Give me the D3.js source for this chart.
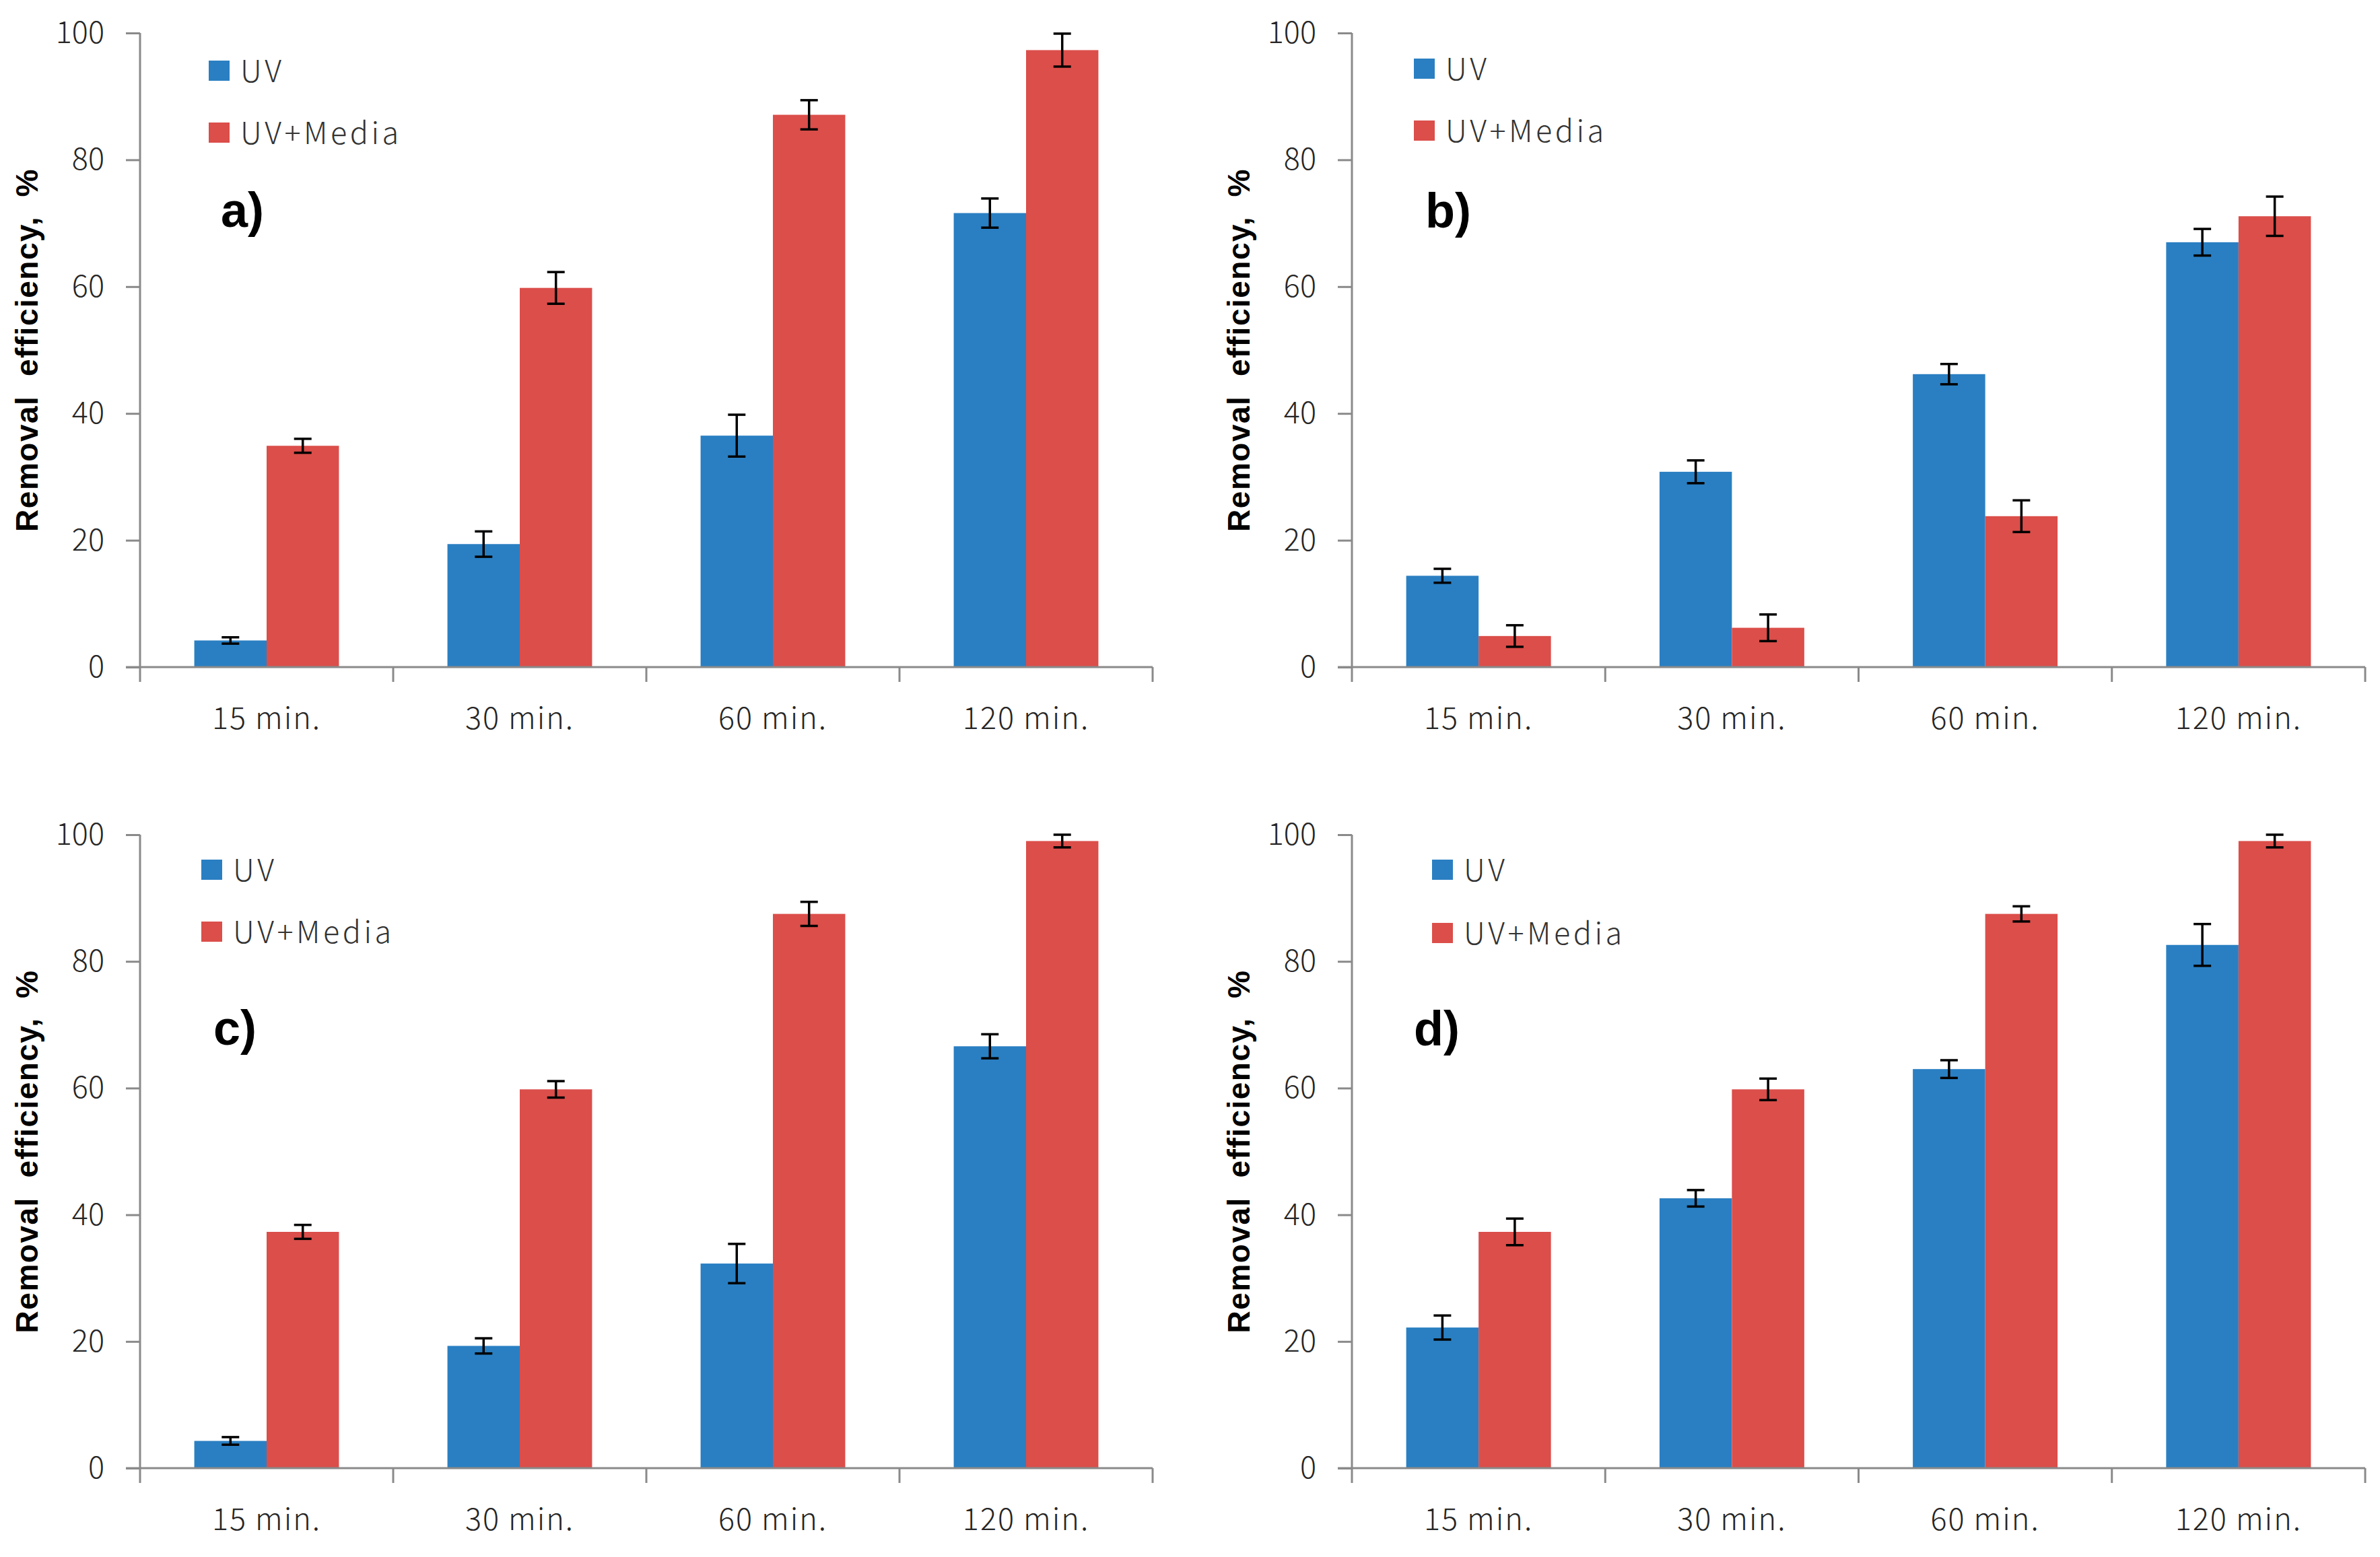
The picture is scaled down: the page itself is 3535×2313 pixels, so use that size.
<!DOCTYPE html>
<html>
<head>
<meta charset="utf-8">
<script src="https://cdn.jsdelivr.net/npm/d3@7"></script>
<style>
  html, body { margin: 0; padding: 0; background: #ffffff; }
  svg { display: block; }
</style>
</head>
<body>
<svg id="chart" width="3535" height="2313"></svg>
<script>
// ---------------- DATA ----------------
const categories = ["15 min.", "30 min.", "60 min.", "120 min."];
const seriesNames = ["UV", "UV+Media"];
const yTickValues = [0, 20, 40, 60, 80, 100];
const panelLabels = ["a)", "b)", "c)", "d)"];
const axisTitle = "Removal  efficiency,  %";

const uvA      = [4.2, 19.4, 36.5, 71.6];
const uvErrA   = [0.5, 2.0, 3.3, 2.3];
const mediaA   = [34.9, 59.8, 87.1, 97.3];
const mediaErrA= [1.1, 2.5, 2.3, 2.6];

const uvB      = [14.4, 30.8, 46.2, 67.0];
const uvErrB   = [1.1, 1.8, 1.6, 2.1];
const mediaB   = [4.9, 6.2, 23.8, 71.1];
const mediaErrB= [1.7, 2.1, 2.5, 3.1];

const uvC      = [4.3, 19.3, 32.3, 66.6];
const uvErrC   = [0.6, 1.2, 3.1, 1.9];
const mediaC   = [37.3, 59.8, 87.5, 99.0];
const mediaErrC= [1.1, 1.3, 1.9, 1.0];

const uvD      = [22.2, 42.6, 63.0, 82.6];
const uvErrD   = [1.9, 1.3, 1.4, 3.3];
const mediaD   = [37.3, 59.8, 87.5, 99.0];
const mediaErrD= [2.1, 1.7, 1.2, 1.0];

// ---------------- STYLE / LAYOUT ----------------
const colors = { "UV": "#2A7FC2", "UV+Media": "#DB4E4A" };
const axisColor = "#8a8a8a";
const tickFont = "'Noto Sans CJK KR', 'Liberation Sans', sans-serif";
const boldFont = "'Liberation Sans', Arial, sans-serif";

const layouts = [
  { left: 208,  right: 1712, top: 49,   bottom: 991,  legX: 310,  legY: [105, 197],   labX: 328,  labY: 337 },
  { left: 2008, right: 3513, top: 49,   bottom: 991,  legX: 2100, legY: [102, 194],   labX: 2117, labY: 338 },
  { left: 208,  right: 1712, top: 1240, bottom: 2181, legX: 299,  legY: [1292, 1384], labX: 317,  labY: 1552 },
  { left: 2008, right: 3513, top: 1240, bottom: 2181, legX: 2127, legY: [1292, 1386], labX: 2100, labY: 1553 }
];

const panelData = [
  { uv: uvA, uvErr: uvErrA, media: mediaA, mediaErr: mediaErrA },
  { uv: uvB, uvErr: uvErrB, media: mediaB, mediaErr: mediaErrB },
  { uv: uvC, uvErr: uvErrC, media: mediaC, mediaErr: mediaErrC },
  { uv: uvD, uvErr: uvErrD, media: mediaD, mediaErr: mediaErrD }
];

const svg = d3.select("#chart");
svg.append("rect").attr("width", 3535).attr("height", 2313).attr("fill", "#fff");

panelData.forEach((pd, i) => {
  const L = layouts[i];
  const g = svg.append("g");

  const x0 = d3.scaleBand().domain(categories).range([L.left, L.right]).padding(0);
  const x1 = d3.scaleBand().domain(seriesNames).range([0, x0.bandwidth()])
               .paddingInner(0).paddingOuter(0.75);
  const y = d3.scaleLinear().domain([0, 100]).range([L.bottom, L.top]);

  const rows = categories.map((c, k) => ({
    cat: c,
    vals: [
      { s: "UV", v: pd.uv[k], e: pd.uvErr[k] },
      { s: "UV+Media", v: pd.media[k], e: pd.mediaErr[k] }
    ]
  }));

  // bars
  const grp = g.selectAll("g.cat").data(rows).enter().append("g")
    .attr("transform", d => `translate(${x0(d.cat)},0)`);
  grp.selectAll("rect").data(d => d.vals).enter().append("rect")
    .attr("x", d => x1(d.s))
    .attr("y", d => y(d.v))
    .attr("width", x1.bandwidth())
    .attr("height", d => y(0) - y(d.v))
    .attr("fill", d => colors[d.s]);

  // error bars
  const cap = 13;
  const eb = grp.selectAll("g.err").data(d => d.vals).enter().append("g")
    .attr("stroke", "#000").attr("stroke-width", 3.5);
  eb.append("line")
    .attr("x1", d => x1(d.s) + x1.bandwidth() / 2)
    .attr("x2", d => x1(d.s) + x1.bandwidth() / 2)
    .attr("y1", d => y(Math.min(100, d.v + d.e)))
    .attr("y2", d => y(d.v - d.e));
  eb.append("line")
    .attr("x1", d => x1(d.s) + x1.bandwidth() / 2 - cap)
    .attr("x2", d => x1(d.s) + x1.bandwidth() / 2 + cap)
    .attr("y1", d => y(d.v + d.e)).attr("y2", d => y(d.v + d.e));
  eb.append("line")
    .attr("x1", d => x1(d.s) + x1.bandwidth() / 2 - cap)
    .attr("x2", d => x1(d.s) + x1.bandwidth() / 2 + cap)
    .attr("y1", d => y(d.v - d.e)).attr("y2", d => y(d.v - d.e));

  // y axis
  const yAxis = d3.axisLeft(y).tickValues(yTickValues).tickSize(21).tickPadding(32);
  const ya = g.append("g").attr("transform", `translate(${L.left},0)`).call(yAxis);
  ya.select(".domain").attr("stroke", axisColor).attr("stroke-width", 3)
    .attr("d", `M0,${L.top}V${L.bottom + 22}`);
  ya.selectAll(".tick line").attr("stroke", axisColor).attr("stroke-width", 3);
  ya.selectAll(".tick text").attr("font-family", tickFont).attr("font-size", 45)
    .attr("font-weight", 300).attr("fill", "#262626");

  // x axis: ticks at category boundaries
  const boundaries = categories.map(c => x0(c)).concat([L.right]);
  g.append("line").attr("x1", L.left - 21).attr("x2", L.right)
    .attr("y1", L.bottom).attr("y2", L.bottom)
    .attr("stroke", axisColor).attr("stroke-width", 3);
  g.selectAll("line.xt").data(boundaries.slice(1)).enter().append("line")
    .attr("x1", d => d).attr("x2", d => d)
    .attr("y1", L.bottom).attr("y2", L.bottom + 22)
    .attr("stroke", axisColor).attr("stroke-width", 3);
  g.selectAll("text.xl").data(categories).enter().append("text")
    .attr("x", d => x0(d) + x0.bandwidth() / 2)
    .attr("y", L.bottom + 92)
    .attr("text-anchor", "middle")
    .attr("font-family", tickFont).attr("font-size", 45).attr("font-weight", 300)
    .attr("letter-spacing", 2).attr("fill", "#262626")
    .style("white-space", "pre")
    .text(d => d);

  // axis title
  g.append("text")
    .attr("transform", `translate(${L.left - 168},${(L.top + L.bottom) / 2}) rotate(-90)`)
    .attr("text-anchor", "middle").attr("dominant-baseline", "central")
    .attr("font-family", boldFont).attr("font-weight", "bold").attr("font-size", 46)
    .attr("letter-spacing", 1.5)
    .style("white-space", "pre")
    .text(axisTitle);

  // legend
  seriesNames.forEach((s, k) => {
    g.append("rect").attr("x", L.legX).attr("y", L.legY[k] - 15)
      .attr("width", 31).attr("height", 30).attr("fill", colors[s]);
    g.append("text").attr("x", L.legX + 47).attr("y", L.legY[k] + 17)
      .attr("font-family", tickFont).attr("font-size", 45).attr("font-weight", 300)
      .attr("fill", "#333")
      .attr("letter-spacing", 4.5)
      .text(s);
  });

  // panel label
  g.append("text").attr("x", L.labX).attr("y", L.labY)
    .attr("font-family", boldFont).attr("font-weight", "bold").attr("font-size", 72)
    .attr("fill", "#000").text(panelLabels[i]);
});
</script>
</body>
</html>
